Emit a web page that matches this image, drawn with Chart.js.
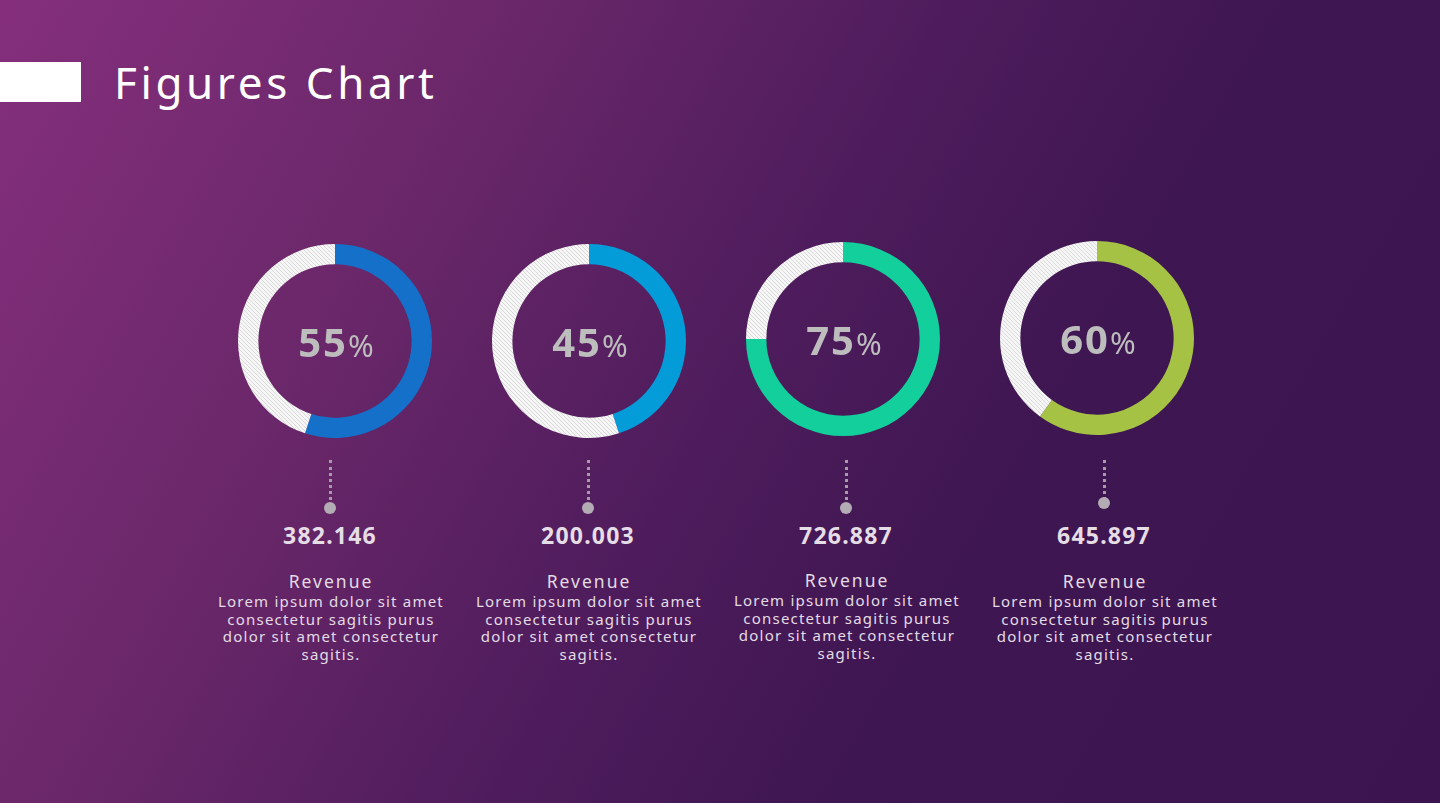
<!DOCTYPE html>
<html>
<head>
<meta charset="utf-8">
<script src="https://cdn.jsdelivr.net/npm/chart.js@4"></script>
<style>
  html, body { margin: 0; padding: 0; }
  body {
    width: 1440px; height: 803px; overflow: hidden; position: relative;
    font-family: "Noto Sans", Lato, sans-serif;
    background: linear-gradient(120deg, #852f7c 0%, #692769 28%, #4e1c5c 50%, #3e1651 68%, #3c1550 100%);
  }
  .bar { position: absolute; left: 0; top: 62px; width: 81px; height: 40px; background: #fff; }
  h1 { position: absolute; left: 114px; top: 52px; margin: 0; font-weight: 400; font-size: 44px; line-height: 60px; color: #fff; letter-spacing: 3.6px; }
  .donut { position: absolute; }
  .pct { position: absolute; width: 200px; text-align: center; color: #bdbdbd; line-height: 44px; }
  .pct b { font-size: 40px; font-weight: 700; letter-spacing: 2px; }
  .pct span { font-size: 31px; font-weight: 400; }
  .stem { position: absolute; width: 0; height: 40px; border-left: 3px dotted #a99aa9; }
  .dot { position: absolute; width: 12px; height: 12px; border-radius: 6px; background: #b4acb4; }
  .val { position: absolute; width: 200px; text-align: center; font-size: 23px; line-height: 30px; font-weight: 700; color: #e6dee6; letter-spacing: 1.2px; }
  .txt { position: absolute; width: 280px; text-align: center; color: #e4dce4; }
  .txt .t { font-size: 17.5px; line-height: 18px; letter-spacing: 2px; margin-bottom: 3px; }
  .txt .d { font-size: 15px; line-height: 17.7px; letter-spacing: 1.2px; }
</style>
</head>
<body>
<div class="bar"></div>
<h1>Figures Chart</h1>
<div id="root"></div>
<script>
const percents = [55, 45, 75, 60];
const figures = ['382.146', '200.003', '726.887', '645.897'];
const titles = ['Revenue', 'Revenue', 'Revenue', 'Revenue'];
const blurb = 'Lorem ipsum dolor sit amet<br>consectetur sagitis purus<br>dolor sit amet consectetur<br>sagitis.';
const ringColors = ['#1570c9', '#049bd9', '#12cf9b', '#a5c244'];

const donutCenters = [[335, 341], [589, 341], [843, 339], [1097, 338]];
const textCenters = [330, 588, 846, 1104];

function hatch() {
  const c = document.createElement('canvas');
  c.width = 4; c.height = 4;
  const g = c.getContext('2d');
  g.fillStyle = '#f6f6f6';
  g.fillRect(0, 0, 4, 4);
  g.strokeStyle = '#d2d2d2';
  g.lineWidth = 0.8;
  g.beginPath();
  g.moveTo(0, 0); g.lineTo(4, 4);
  g.moveTo(-1, 3); g.lineTo(1, 5);
  g.moveTo(3, -1); g.lineTo(5, 1);
  g.stroke();
  return g.createPattern(c, 'repeat');
}

const root = document.getElementById('root');
percents.forEach((p, i) => {
  const [cx, cy] = donutCenters[i];
  const cv = document.createElement('canvas');
  cv.className = 'donut';
  cv.width = 200; cv.height = 200;
  cv.style.left = (cx - 100) + 'px';
  cv.style.top = (cy - 100) + 'px';
  root.appendChild(cv);

  new Chart(cv, {
    type: 'doughnut',
    data: {
      labels: ['value', 'rest'],
      datasets: [{
        data: [p, 100 - p],
        backgroundColor: [ringColors[i], hatch()],
        borderWidth: 0,
        hoverOffset: 0
      }]
    },
    options: {
      responsive: false,
      animation: false,
      radius: 97,
      cutout: 79,
      events: [],
      plugins: { legend: { display: false }, tooltip: { enabled: false } }
    }
  });

  const pct = document.createElement('div');
  pct.className = 'pct';
  pct.style.left = (cx - 99) + 'px';
  pct.style.top = (cy - 21) + 'px';
  pct.innerHTML = '<b>' + p + '</b><span>%</span>';
  root.appendChild(pct);

  const tx = textCenters[i];
  const stem = document.createElement('div');
  stem.className = 'stem';
  stem.style.left = (tx - 1) + 'px';
  stem.style.top = '460px';
  root.appendChild(stem);

  const dot = document.createElement('div');
  dot.className = 'dot';
  dot.style.left = (tx - 6) + 'px';
  dot.style.top = (i === 3 ? 497 : 502) + 'px';
  root.appendChild(dot);

  const val = document.createElement('div');
  val.className = 'val';
  val.style.left = (tx - 100) + 'px';
  val.style.top = '520px';
  val.textContent = figures[i];
  root.appendChild(val);

  const txt = document.createElement('div');
  txt.className = 'txt';
  txt.style.left = (tx + 1 - 140) + 'px';
  txt.style.top = (i === 2 ? 571 : 572) + 'px';
  txt.innerHTML = '<div class="t">' + titles[i] + '</div><div class="d">' + blurb + '</div>';
  root.appendChild(txt);
});
</script>
</body>
</html>
